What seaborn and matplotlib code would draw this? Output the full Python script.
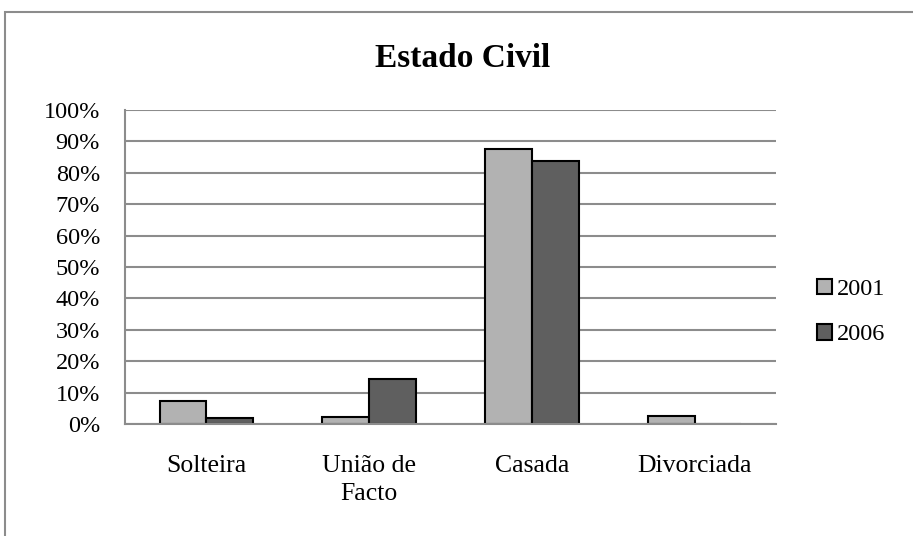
import pandas as pd
import seaborn as sns
import matplotlib.pyplot as plt
from matplotlib.patches import Rectangle
from matplotlib.ticker import FuncFormatter

categories = ['Solteira', 'União de\nFacto', 'Casada', 'Divorciada']
years = ['2001', '2006']
values_2001 = [0.074, 0.023, 0.876, 0.025]
values_2006 = [0.018, 0.142, 0.838, 0.0]
colors = ['#b2b2b2', '#5f5f5f']


def build_df():
    rows = []
    for year, vals in zip(years, [values_2001, values_2006]):
        for cat, v in zip(categories, vals):
            rows.append({'estado': cat, 'ano': year, 'valor': v})
    return pd.DataFrame(rows)


def main():
    sns.set_style('white')
    plt.rcParams['font.family'] = ['Liberation Serif', 'DejaVu Serif']
    plt.rcParams['text.color'] = 'black'
    plt.rcParams['xtick.color'] = 'black'
    plt.rcParams['ytick.color'] = 'black'
    df = build_df()

    fig = plt.figure(figsize=(9.13, 5.36), dpi=100)
    ax = fig.add_axes([125 / 913, 1 - 424 / 536, 651 / 913, 314 / 536])

    sns.barplot(data=df, x='estado', y='valor', hue='ano', order=categories,
                hue_order=years, palette=colors, width=0.574, gap=0,
                edgecolor='black', linewidth=1.5, saturation=1, ax=ax)

    ax.set_ylim(0, 1)
    ax.set_yticks([i / 10 for i in range(11)])
    ax.yaxis.set_major_formatter(FuncFormatter(lambda v, p: '%d%%' % round(v * 100)))
    ax.yaxis.grid(True, color='#8c8c8c', linewidth=1.5)
    ax.set_axisbelow(True)
    for side in ['top', 'right']:
        ax.spines[side].set_visible(False)
    for side in ['left', 'bottom']:
        ax.spines[side].set_color('#8c8c8c')
        ax.spines[side].set_linewidth(1.5)
    ax.tick_params(axis='y', length=0, pad=18, labelsize=17.5)
    ax.tick_params(axis='x', length=0, pad=22, labelsize=18.5)
    for lbl in ax.get_xticklabels():
        lbl.set_linespacing(1.35)
    ax.set_xlabel('')
    ax.set_ylabel('')

    ax.legend(loc='center left', bbox_to_anchor=(805 / 913, 1 - 312 / 536),
              bbox_transform=fig.transFigure, frameon=False, fontsize=17.5,
              handlelength=0.6, handleheight=0.6, handletextpad=0.2,
              labelspacing=1.0, borderpad=0)

    fig.text(463 / 913, 1 - 67 / 536, 'Estado Civil', ha='center', va='baseline',
             fontsize=24, fontweight='bold')

    # moldura cinzenta do grafico (so se ve a esquerda e em cima)
    fig.patches.append(Rectangle((5 / 913, -0.1), 1.2, 1.1 - 12 / 536,
                                 transform=fig.transFigure, fill=False,
                                 edgecolor='#8c8c8c', linewidth=1.5))

    fig.savefig('out.png', dpi=100)


if __name__ == '__main__':
    main()
